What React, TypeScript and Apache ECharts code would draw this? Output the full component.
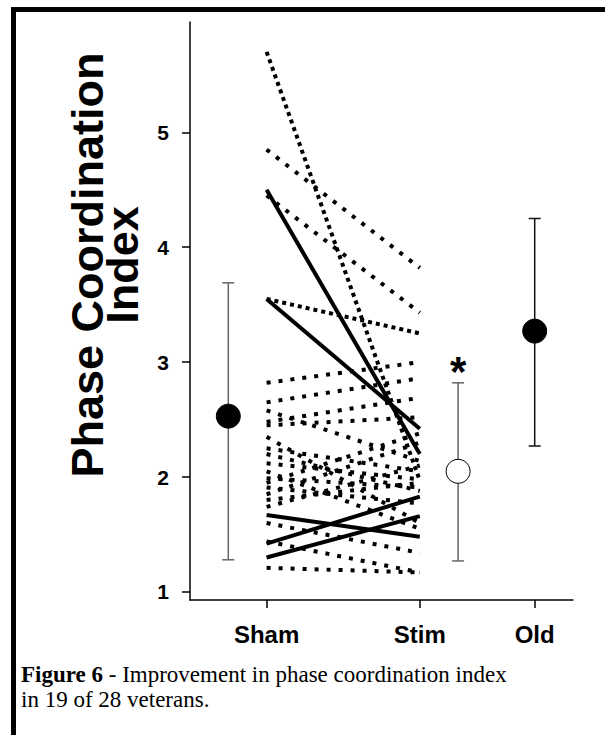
import React, { useEffect, useRef } from "react";
import * as echarts from "echarts";

const categories = ["Sham", "Stim", "Old"];
const categoryX = [1, 2, 2.75];
const yTicks = [1, 2, 3, 4, 5];

// individual veterans: Sham -> Stim
const shamValues = [5.7, 4.85, 4.45, 4.5, 3.55, 3.55, 2.82, 2.65, 2.48, 2.45, 2.58, 2.25, 2.12, 1.99, 1.91, 1.74, 1.67, 1.6, 1.42, 1.3, 1.21, 1.44, 2.35, 1.85, 2.05, 1.8, 2.2, 1.95];
const stimValues = [1.97, 3.82, 3.43, 2.2, 2.42, 3.25, 3.0, 2.86, 2.69, 2.52, 2.14, 2.05, 1.98, 1.91, 1.77, 2.1, 1.48, 1.34, 1.83, 1.66, 1.17, 1.17, 1.6, 2.3, 1.55, 1.95, 1.88, 2.38];
// line kind: "s" solid, "d" dense dots, "o" open dots
const lineKind = ["d", "o", "o", "s", "s", "d", "o", "o", "o", "o", "o", "o", "o", "o", "o", "o", "s", "o", "s", "s", "o", "o", "o", "o", "o", "o", "o", "o"];

// group means with error bars
const meanX = [0.75, 2.25, 2.75];
const meanValues = [2.53, 2.05, 3.27];
const errLow = [1.28, 1.27, 2.27];
const errHigh = [3.69, 2.82, 4.25];
const meanFilled = [true, false, true];
const errColors = ["#666666", "#666666", "#111111"];
const starIndex = 1;

export default function App() {
  const ref = useRef<HTMLDivElement>(null);
  useEffect(() => {
    if (!ref.current) return;
    const chart = echarts.init(ref.current, null, { renderer: "svg" });
    const lineSeries = shamValues.map((s, i) => ({
      type: "line",
      data: [[categoryX[0], s], [categoryX[1], stimValues[i]]],
      symbol: "none",
      silent: true,
      z: 2,
      lineStyle: {
        color: "#000",
        width: 4,
        type: lineKind[i] === "s" ? "solid" : lineKind[i] === "d" ? [4, 4] : [4, 8],
        cap: "butt",
      },
    }));
    const errData = meanX.map((x, i) => [x, meanValues[i], errLow[i], errHigh[i], i]);
    const option: any = {
      animation: false,
      backgroundColor: "#fff",
      grid: { left: 190, top: 22, right: 32, bottom: 135, containLabel: false },
      xAxis: {
        type: "value",
        min: 0.5,
        max: 3,
        axisLine: { show: true, lineStyle: { color: "#000", width: 1.5 } },
        axisTick: { show: true, customValues: categoryX, length: 8, lineStyle: { color: "#000", width: 1.5 } },
        axisLabel: {
          customValues: categoryX,
          formatter: (v: number) => categories[categoryX.findIndex((c) => Math.abs(c - v) < 1e-6)] || "",
          margin: 22,
          color: "#000",
          fontFamily: "Liberation Sans, Arial, sans-serif",
          fontWeight: "bold",
          fontSize: 24,
        },
        splitLine: { show: false },
      },
      yAxis: {
        type: "value",
        min: 0.93,
        max: 5.96,
        axisLine: { show: true, lineStyle: { color: "#000", width: 1.5 } },
        axisTick: { show: true, customValues: yTicks, length: 8, lineStyle: { color: "#000", width: 1.5 } },
        axisLabel: {
          customValues: yTicks,
          margin: 21,
          color: "#000",
          fontFamily: "Liberation Sans, Arial, sans-serif",
          fontWeight: "bold",
          fontSize: 21,
        },
        splitLine: { show: false },
      },
      graphic: [
        { type: "rect", shape: { x: 11, y: 7, width: 594, height: 5 }, style: { fill: "#000" } },
        { type: "rect", shape: { x: 11, y: 7, width: 5, height: 728 }, style: { fill: "#000" } },
        {
          type: "text",
          x: 105,
          y: 265,
          rotation: Math.PI / 2,
          style: {
            text: "Phase Coordination\nIndex",
            fontFamily: "Liberation Sans, Arial, sans-serif",
            fontWeight: "bold",
            fontSize: 45,
            lineHeight: 35,
            fill: "#000",
            align: "center",
            verticalAlign: "middle",
          },
        },
        {
          type: "text",
          x: 21,
          y: 662,
          style: {
            text: "{b|Figure 6} - Improvement in phase coordination index\nin 19 of 28 veterans.",
            rich: { b: { fontWeight: "bold", fontFamily: "Liberation Serif, Times New Roman, serif", fontSize: 23, lineHeight: 25 } },
            fontFamily: "Liberation Serif, Times New Roman, serif",
            fontSize: 23,
            lineHeight: 25,
            fill: "#000",
          },
        },
      ],
      series: [
        ...lineSeries,
        {
          type: "custom",
          z: 3,
          silent: true,
          data: errData,
          renderItem: (params: any, api: any) => {
            const x = api.value(0);
            const lo = api.coord([x, api.value(2)]);
            const hi = api.coord([x, api.value(3)]);
            const idx = api.value(4);
            const col = errColors[idx];
            const cap = 6;
            const children: any[] = [
              { type: "line", shape: { x1: lo[0], y1: lo[1], x2: hi[0], y2: hi[1] }, style: { stroke: col, lineWidth: 1.5 } },
              { type: "line", shape: { x1: lo[0] - cap, y1: lo[1], x2: lo[0] + cap, y2: lo[1] }, style: { stroke: col, lineWidth: 1.5 } },
              { type: "line", shape: { x1: hi[0] - cap, y1: hi[1], x2: hi[0] + cap, y2: hi[1] }, style: { stroke: col, lineWidth: 1.5 } },
            ];
            if (idx === starIndex) {
              children.push({
                type: "text",
                x: hi[0],
                y: hi[1] - 32,
                style: {
                  text: "*",
                  fontFamily: "Liberation Sans, Arial, sans-serif",
                  fontWeight: "bold",
                  fontSize: 42,
                  fill: "#000",
                  align: "center",
                  verticalAlign: "top",
                },
              });
            }
            return { type: "group", children };
          },
        },
        {
          type: "scatter",
          z: 4,
          silent: true,
          symbol: "circle",
          symbolSize: 24,
          data: meanX.map((x, i) => ({
            value: [x, meanValues[i]],
            itemStyle: {
              color: meanFilled[i] ? "#000" : "#fff",
              borderColor: "#000",
              borderWidth: 1,
              opacity: 1,
            },
          })),
        },
      ],
    };
    chart.setOption(option);
    return () => chart.dispose();
  }, []);
  return <div ref={ref} style={{ position: "absolute", left: 0, top: 0, width: 605, height: 735, background: "#fff" }} />;
}
